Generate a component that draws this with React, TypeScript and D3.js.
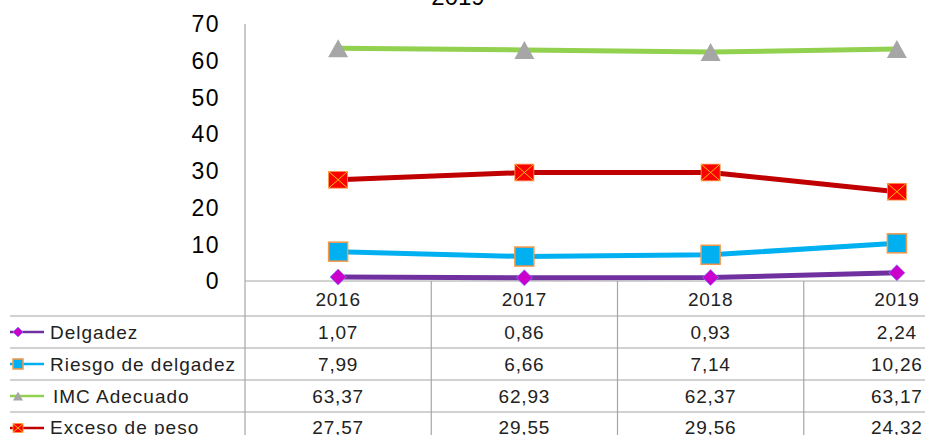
import React from "react";
import * as d3 from "d3";

const years = ["2016", "2017", "2018", "2019"];
const delgadez = [1.07, 0.86, 0.93, 2.24];
const riesgo = [7.99, 6.66, 7.14, 10.26];
const imc = [63.37, 62.93, 62.37, 63.17];
const exceso = [27.57, 29.55, 29.56, 24.32];
const seriesNames = ["Delgadez", "Riesgo de delgadez", "IMC Adecuado", "Exceso de peso"];
const yTicks = [0, 10, 20, 30, 40, 50, 60, 70];
const titleText = "2019";

const W = 925, H = 435;
const left = 245, right = 990, top = 24, zeroY = 281;
const rowLines = [316, 348, 380, 412, 444];
const gridColor = "#a6a6a6";
const font = "'Liberation Sans', Arial, sans-serif";

function fmt(v: number) {
  return v.toFixed(2).replace(".", ",");
}

type Kind = "diamond" | "square" | "triangle" | "xsquare";

function Marker({ kind, x, y, s }: { kind: Kind; x: number; y: number; s: number }) {
  const h = s / 2;
  if (kind === "diamond") {
    return <path d={`M${x},${y - h} L${x + h},${y} L${x},${y + h} L${x - h},${y} Z`} fill="#cc00cc" stroke="#7f7fff" strokeWidth={0.8} />;
  }
  if (kind === "square") {
    return <rect x={x - h} y={y - h} width={s} height={s} fill="#00b0f0" stroke="#f79646" strokeWidth={1.5} />;
  }
  if (kind === "triangle") {
    const hh = h * 0.9;
    return <path d={`M${x},${y - hh} L${x + h},${y + hh} L${x - h},${y + hh} Z`} fill="#a6a6a6" />;
  }
  const hy = h * 0.88;
  return (
    <g>
      <rect x={x - h} y={y - hy} width={s} height={hy * 2} fill="#ff0000" stroke="#f79646" strokeWidth={0.8} />
      <path d={`M${x - h},${y - hy} L${x + h},${y + hy} M${x + h},${y - hy} L${x - h},${y + hy}`} stroke="#ffc000" strokeWidth={1} />
    </g>
  );
}

export default function App() {
  const x = d3.scaleBand<string>().domain(years).range([left, right]).padding(0);
  const y = d3.scaleLinear().domain([0, 70]).range([zeroY, top]);
  const cx = (yr: string) => (x(yr) as number) + x.bandwidth() / 2;

  const series = [
    { name: seriesNames[0], values: delgadez, color: "#7030a0", kind: "diamond" as Kind, size: 16, lw: 5 },
    { name: seriesNames[1], values: riesgo, color: "#00b0f0", kind: "square" as Kind, size: 19, lw: 5 },
    { name: seriesNames[2], values: imc, color: "#92d050", kind: "triangle" as Kind, size: 20, lw: 5 },
    { name: seriesNames[3], values: exceso, color: "#c00000", kind: "xsquare" as Kind, size: 19, lw: 5 },
  ];

  const line = d3.line<number>().x((_, i) => cx(years[i])).y((d) => y(d));
  const rowCenters = rowLines.slice(0, 4).map((r, i) => (r + rowLines[i + 1]) / 2);
  const valueBaselines = [339, 371, 403, 434];

  return (
    <div style={{ position: "absolute", left: 0, top: 0 }}>
      <svg width={W} height={H} style={{ display: "block", fontFamily: font }}>
        <rect width={W} height={H} fill="#fff" />
        <text x={458} y={5} textAnchor="middle" fontSize={24} fill="#000">{titleText}</text>

        {/* y axis ticks */}
        {yTicks.map((t) => (
          <text key={t} x={220} y={y(t)} dy="0.36em" textAnchor="end" fontSize={23} letterSpacing={1.5} fill="#000">{t}</text>
        ))}

        {/* axis & table grid */}
        <line x1={left} x2={left} y1={top} y2={H} stroke={gridColor} strokeWidth={1.2} />
        <line x1={left} x2={right} y1={zeroY} y2={zeroY} stroke={gridColor} strokeWidth={1.2} />
        {rowLines.slice(0, 4).map((r) => (
          <line key={r} x1={10} x2={right} y1={r} y2={r} stroke={gridColor} strokeWidth={1.2} />
        ))}
        {years.slice(1).map((yr) => (
          <line key={yr} x1={x(yr) as number} x2={x(yr) as number} y1={zeroY} y2={H} stroke={gridColor} strokeWidth={1.2} />
        ))}

        {/* header */}
        {years.map((yr) => (
          <text key={yr} x={cx(yr)} y={305.5} textAnchor="middle" fontSize={19} letterSpacing={0.8} fill="#222">{yr}</text>
        ))}

        {/* rows */}
        {series.map((s, si) => (
          <g key={s.name}>
            <line x1={10} x2={44} y1={rowCenters[si]} y2={rowCenters[si]} stroke={s.color} strokeWidth={2.5} />
            <Marker kind={s.kind} x={18} y={rowCenters[si]} s={10} />
            <text x={si === 2 ? 53 : 50} y={valueBaselines[si]} fontSize={19} letterSpacing={1} fill="#222">{s.name}</text>
            {s.values.map((v, i) => (
              <text key={i} x={cx(years[i])} y={valueBaselines[si]} textAnchor="middle" fontSize={19} letterSpacing={0.8} fill="#222">{fmt(v)}</text>
            ))}
          </g>
        ))}

        {/* lines */}
        {[2, 3, 1, 0].map((si) => {
          const s = series[si];
          return (
            <g key={s.name}>
              <path d={line(s.values) || ""} fill="none" stroke={s.color} strokeWidth={s.lw} strokeLinejoin="round" />
              {s.values.map((v, i) => (
                <Marker key={i} kind={s.kind} x={cx(years[i])} y={y(v)} s={s.size} />
              ))}
            </g>
          );
        })}
      </svg>
    </div>
  );
}
